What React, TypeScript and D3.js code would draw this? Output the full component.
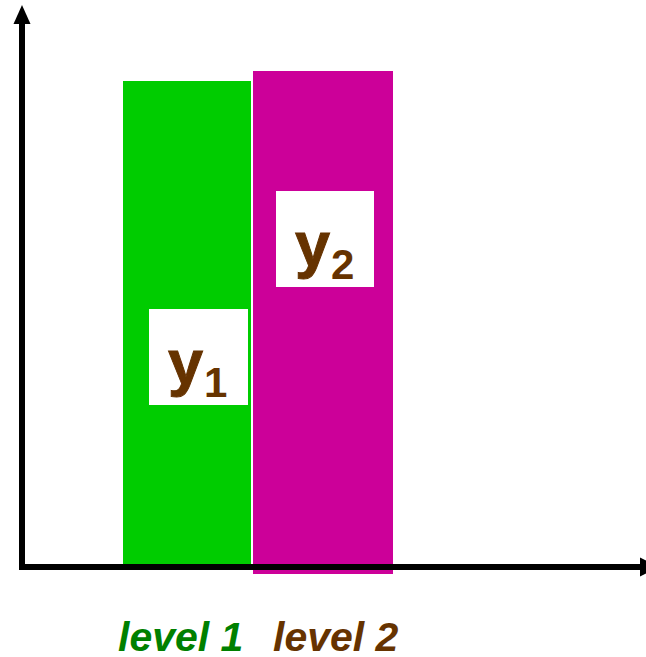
import React from "react";
import * as d3 from "d3";

// Categories and bar values
const categories = ["level 1", "level 2"];
const barTops = [97.2, 99.2];
const barBottoms = [0, -1.4];
const symbols = ["y", "y"];
const subscripts = ["1", "2"];
// Where each symbol box sits on the value axis (its top edge)
const boxTops = [51.6, 75.2];

const W = 646;
const H = 657;

const barColors = ["#00cc00", "#cc0099"];
const labelColors = ["#008000", "#663300"];
const textBrown = "#663300";

// Horizontal layout of each bar, box and category label (pixels)
const barX = [
  [123, 251],
  [253, 393],
];
const boxX = [
  [149, 248],
  [276, 374],
];
const labelX = [118, 273];
const BOX_H = 96;

export default function App() {
  const y = d3.scaleLinear().domain([0, 100]).range([567, 67]);
  const axisY = y(0);
  const axisX = 22;

  return (
    <div style={{ position: "fixed", left: 0, top: 0, width: W, height: H, background: "#fff" }}>
      <svg width={W} height={H} style={{ display: "block" }}>
        <rect width={W} height={H} fill="#fff" />
        {categories.map((c, i) => (
          <rect
            key={"bar" + c}
            x={barX[i][0]}
            width={barX[i][1] - barX[i][0]}
            y={y(barTops[i])}
            height={y(barBottoms[i]) - y(barTops[i])}
            fill={barColors[i]}
          />
        ))}
        {categories.map((c, i) => {
          const top = y(boxTops[i]);
          const x0 = boxX[i][0];
          const w = boxX[i][1] - x0;
          return (
            <g key={"box" + c}>
              <rect x={x0} y={top} width={w} height={BOX_H} fill="#fff" />
              <text
                x={x0 + 19}
                y={top + 75}
                fontFamily="Liberation Sans, Arial, sans-serif"
                fontWeight="bold"
                fontSize={63}
                fill={textBrown}
                stroke={textBrown}
                strokeWidth={1}
              >
                {symbols[i]}
              </text>
              <text
                x={x0 + 55}
                y={top + 88}
                fontFamily="Liberation Sans, Arial, sans-serif"
                fontWeight="bold"
                fontSize={42}
                fill={textBrown}
              >
                {subscripts[i]}
              </text>
            </g>
          );
        })}
        {/* axes with arrowheads */}
        <line x1={axisX} x2={axisX} y1={22} y2={axisY + 3} stroke="#000" strokeWidth={6} />
        <path d={`M${axisX},5 L${axisX + 8.5},24 L${axisX - 8.5},24 Z`} fill="#000" />
        <line x1={axisX - 3} x2={641} y1={axisY} y2={axisY} stroke="#000" strokeWidth={6} />
        <path d={`M659,${axisY} L640,${axisY - 9.5} L640,${axisY + 9.5} Z`} fill="#000" />
        {categories.map((c, i) => (
          <text
            key={"lab" + c}
            x={labelX[i]}
            y={651}
            fontFamily="Liberation Sans, Arial, sans-serif"
            fontWeight="bold"
            fontStyle="italic"
            fontSize={41}
            fill={labelColors[i]}
          >
            {c}
          </text>
        ))}
      </svg>
    </div>
  );
}
